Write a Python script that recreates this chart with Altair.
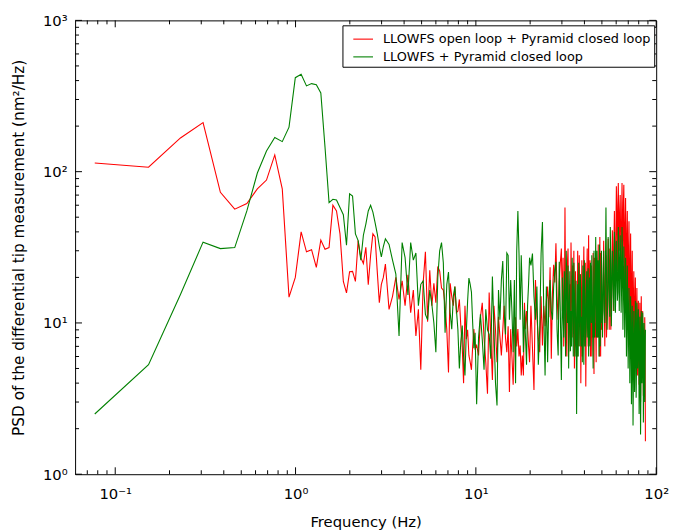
import math
import altair as alt
import pandas as pd

# ---------------- data ----------------
FREQ = [
    0.077, 0.153, 0.230, 0.307, 0.383, 0.460, 0.537, 0.614, 0.690, 0.767,
    0.844, 0.920, 0.997, 1.074, 1.150, 1.227, 1.304, 1.381, 1.457, 1.534,
    1.611, 1.687, 1.764, 1.841, 1.917, 1.994, 2.071, 2.148, 2.224, 2.301,
    2.378, 2.454, 2.531, 2.608, 2.685, 2.761, 2.838, 2.915, 2.991, 3.068,
    3.15, 3.30, 3.45, 3.60, 3.75, 3.90, 4.05, 4.20, 4.35, 4.50,
    4.65, 4.80, 4.95, 5.10, 5.25, 5.40, 5.55, 5.70, 5.85, 6.00,
    6.15, 6.30, 6.45, 6.60, 6.75, 6.90, 7.05, 7.20, 7.35, 7.50,
    7.65, 7.80, 7.95, 8.10, 8.25, 8.40, 8.55, 8.70, 8.85, 9.00,
    9.15, 9.30, 9.45, 9.60, 9.75, 9.90,
    10.10, 10.35, 10.60, 10.85, 11.10, 11.35, 11.60, 11.85, 12.10, 12.35,
    12.60, 12.85, 13.10, 13.35, 13.60, 13.85, 14.10, 14.35, 14.60, 14.85,
    15.10, 15.35, 15.60, 15.85, 16.10, 16.35, 16.60, 16.85, 17.10, 17.35,
    17.60, 17.85, 18.10, 18.35, 18.60, 18.85, 19.10, 19.35, 19.60, 19.85,
    20.2, 20.6, 21.0, 21.4, 21.8, 22.2, 22.6, 23.0, 23.4, 23.8,
    24.2, 24.6, 25.0, 25.4, 25.8, 26.2, 26.6, 27.0, 27.4, 27.8,
    28.2, 28.6, 29.0, 29.4, 29.8,
    30.2, 30.7, 31.2, 31.7, 32.2, 32.7, 33.2, 33.7, 34.2, 34.7,
    35.2, 35.7, 36.2, 36.7, 37.2, 37.7, 38.2, 38.7, 39.2, 39.7,
    40.2, 40.7, 41.2, 41.7, 42.2, 42.7, 43.2, 43.7, 44.2, 44.7,
    45.2, 45.7, 46.2, 46.7, 47.2, 47.7, 48.2, 48.7, 49.2, 49.7,
    50.40, 51.15, 51.90, 52.65, 53.40, 54.15, 54.90, 55.65, 56.40, 57.15,
    57.90, 58.65, 59.40, 60.15, 60.90, 61.65, 62.40, 63.15, 63.90, 64.65,
    65.40, 66.15, 66.90, 67.65, 68.40, 69.15, 69.90, 70.65, 71.40, 72.15,
    72.90, 73.65, 74.40, 75.15, 75.90, 76.65, 77.40, 78.15, 78.90, 79.65,
    80.40, 81.15, 81.90, 82.65, 83.40, 84.15, 84.90, 85.65, 86.40, 87.15,
]

# red: LLOWFS open loop + Pyramid closed loop
PSD_OPEN = [
    114, 107, 167, 211, 73, 56.5, 61.5, 77, 88, 129,
    77, 14.8, 20, 40, 29.5, 30.5, 23.3, 35.3, 30.7, 31.5,
    60, 55, 38.8, 18.8, 15.8, 21.8, 21.9, 18.8, 35, 27,
    24.7, 31.6, 17.9, 28, 38.8, 37, 22, 13.6, 18, 20,
    24.5, 12.3, 15, 20, 14.3, 19, 13, 20.8, 11.7, 16.5,
    8.2, 12.3, 4.9, 18.3, 29.5, 10.2, 22.3, 13, 18.3, 13.6,
    23.6, 22, 17, 16.5, 13, 9, 4.7, 18.3, 15, 13,
    17.4, 11.7, 12, 14.3, 9.6, 7, 4.0, 13, 7.8, 9,
    6.1, 5.5, 4.9, 7, 9.1, 6.8,
    7.1, 6.1, 10.9, 13.6, 8, 5.5, 3.4, 15.9, 8, 4.2,
    13, 9, 5.5, 11, 8.1, 6.1, 9, 13, 8, 6.4,
    9.5, 3.5, 9.1, 6, 3.9, 8, 10.9, 7, 9.1, 6,
    7.1, 4.5, 6.1, 4.5, 13.6, 9.1, 12, 9.5, 7, 5.5,
    13, 6.8, 3.6, 19.2, 10.9, 8, 6.4, 15, 7.1, 13,
    9.5, 14, 17.4, 10.9, 23.3, 5.8, 16, 24.2, 18.5, 33.6,
    15, 10.5, 18.5, 25, 31,
    12, 7, 58, 10, 25, 6.4, 18, 34, 8, 14,
    5, 22, 11, 30, 7, 16, 4, 26, 9, 32,
    12, 3.8, 20, 10, 38, 15, 6, 24, 12, 29,
    4.6, 18, 10, 27, 8, 33, 14, 37, 6, 20,
    10, 35, 7, 28, 12, 36, 9, 25, 14, 41,
    12, 55, 18, 80, 22, 84, 30, 70, 20, 84,
    25, 82, 18, 67, 15, 55, 12, 47, 11, 39,
    9, 30, 8, 22, 6, 20, 5, 17, 4.5, 14,
    3.9, 13.6, 3.0, 15, 5, 12, 3.3, 8, 10.9, 1.65,
]

# green: LLOWFS + Pyramid closed loop
PSD_CLOSED = [
    2.5, 5.3, 15.4, 34.2, 31, 31.5, 55, 98, 137, 168,
    158, 197, 418, 440, 369, 382, 375, 331, 145, 62.4,
    65.7, 65, 58, 51.9, 32.6, 71.4, 69, 38.8, 35, 26,
    38, 45, 55, 60, 54, 46, 39, 32, 27.3, 32,
    36, 33, 26, 21, 8.2, 34, 27, 15.3, 34, 26,
    29, 13, 18, 19, 11.4, 10.5, 16.5, 13.3, 10, 6.4,
    20, 30, 34, 25, 8.6, 18, 21.7, 11.7, 9.1, 15,
    17.4, 12.3, 9, 5.0, 7.5, 9.6, 6, 4.5, 8.6, 14,
    19.8, 18, 16, 10, 6.8, 8.6,
    2.9, 8, 11.4, 7.8, 4.9, 12.3, 9, 8.4, 5.8, 20.3,
    9.1, 4, 2.85, 16.5, 10.5, 19.2, 25.7, 12, 8.4, 29,
    28, 10.5, 19.2, 12, 6.4, 19.2, 4.0, 30, 55, 28.8,
    10.5, 28, 15, 6.4, 12.2, 8, 5.3, 13, 18, 27,
    24, 28.8, 15, 10.5, 17.4, 5.3, 9.1, 28.8, 46.5, 12,
    4.5, 17.4, 5.5, 14, 19.2, 12, 10.5, 17.4, 22, 25.4,
    9, 6.1, 25.4, 12, 4.2,
    20, 8, 14, 30, 10, 5, 22, 12, 27, 6,
    16, 9, 2.5, 18, 25, 7, 15, 11, 24, 5.3,
    17, 9, 22, 13, 6, 20, 25, 10, 16, 5,
    30, 12, 37, 8, 19, 26, 6, 21, 14, 30,
    8, 30, 10, 58, 9, 37, 14, 43, 9.5, 30,
    15, 40, 11.7, 35, 14, 43, 12, 38, 11.7, 43,
    9, 32, 8, 27, 6, 24, 5, 17, 4, 15,
    2.9, 13, 2.1, 12, 3.5, 14, 3.2, 13.6, 5, 12.3,
    2.5, 11, 1.83, 12, 4, 11.7, 2.2, 10, 3, 9,
]

# extra in-between readings of the dense 30-87 Hz part
FREQ_DENSE = [
    30.45, 30.95, 31.45, 31.95, 32.45, 32.95, 33.45, 33.95, 34.45, 34.95,
    35.45, 35.95, 36.45, 36.95, 37.45, 37.95, 38.45, 38.95, 39.45, 39.95,
    40.45, 40.95, 41.45, 41.95, 42.45, 42.95, 43.45, 43.95, 44.45, 44.95,
    45.45, 45.95, 46.45, 46.95, 47.45, 47.95, 48.45, 48.95, 49.45, 49.95,
    50.78, 51.53, 52.28, 53.03, 53.78, 54.53, 55.28, 56.03, 56.78, 57.53,
    58.28, 59.03, 59.78, 60.53, 61.28, 62.03, 62.78, 63.53, 64.28, 65.03,
    65.78, 66.53, 67.28, 68.03, 68.78, 69.53, 70.28, 71.03, 71.78, 72.53,
    73.28, 74.03, 74.78, 75.53, 76.28, 77.03, 77.78, 78.53, 79.28, 80.03,
    80.78, 81.53, 82.28, 83.03, 83.78, 84.53, 85.28, 86.03, 86.78,
]
PSD_OPEN_DENSE = [
    27, 11, 15, 6, 31, 9, 8, 17, 24, 30,
    9, 7, 6, 13, 28, 21, 12, 6, 18, 7,
    25, 10, 31, 7, 9, 26, 14, 6, 8, 16,
    27, 8, 5.5, 14, 19, 9, 6, 16, 29, 9,
    19, 14, 20, 8, 17, 24, 31, 9, 22, 26,
    33, 24, 40, 45, 60, 42, 55, 35, 48, 35,
    62, 30, 45, 28, 36, 22, 30, 16, 24, 14,
    18, 12, 14, 10, 13, 9, 11, 8, 9, 6,
    8, 5.5, 9, 8, 6.5, 7, 5.5, 3.5, 6,
]
PSD_CLOSED_DENSE = [
    11, 22, 6, 17, 24, 12, 6.5, 7, 15, 25,
    6, 19, 8, 6, 14, 21, 7, 5.5, 12, 26,
    7, 15, 8, 23, 11, 7, 16, 28, 9, 15,
    8, 17, 11, 30, 8, 15, 33, 7, 10, 17,
    18, 12, 22, 20, 13, 22, 11, 25, 16, 24,
    12, 28, 18, 22, 16, 30, 20, 26, 17, 28,
    15, 20, 13, 16, 10, 14, 8, 11, 7, 9,
    5, 8, 4.5, 8, 6, 9, 5, 10, 7, 8,
    4, 7, 3.5, 9, 5, 8, 4, 7, 5,
]

SERIES = ["LLOWFS open loop + Pyramid closed loop", "LLOWFS + Pyramid closed loop"]
COLORS = ["#ff0000", "#008000"]

X_MAJOR = [0.1, 1, 10, 100]
X_LABELS = ["10⁻¹", "10⁰", "10¹", "10²"]
X_MINOR = [0.07, 0.08, 0.09, 0.2, 0.3, 0.4, 0.5, 0.6, 0.7, 0.8, 0.9,
           2, 3, 4, 5, 6, 7, 8, 9, 20, 30, 40, 50, 60, 70, 80, 90]
Y_MAJOR = [1, 10, 100, 1000]
Y_LABELS = ["10⁰", "10¹", "10²", "10³"]
Y_MINOR = [2, 3, 4, 5, 6, 7, 8, 9, 20, 30, 40, 50, 60, 70, 80, 90,
           200, 300, 400, 500, 600, 700, 800, 900]

X_TITLE = "Frequency (Hz)"
Y_TITLE = "PSD of the differential tip measurement (nm²/Hz)"

# ---------------- layout / style ----------------
W, H = 589, 460
MAJOR_LEN, MINOR_LEN = 7, 4
FONT = "DejaVu Sans"


def label_expr(values, labels):
    expr = "''"
    for v, lab in reversed(list(zip(values, labels))):
        expr = f"abs(log(datum.value) / LN10 - ({math.log10(v):.3f})) < 0.05 ? '{lab}' : " + expr
    return expr


xs = alt.Scale(type="log", domain=[0.0599, 100], nice=False)
ys = alt.Scale(type="log", domain=[1, 1000], nice=False)

axis_common = dict(ticks=False, domain=False, grid=False, labelFont=FONT,
                   labelColor="black", titleFont=FONT, titleColor="black",
                   titleFontWeight="normal", labelFlush=False, labelOverlap=False)

x_axis = alt.Axis(title=X_TITLE, values=X_MAJOR, labelExpr=label_expr(X_MAJOR, X_LABELS),
                  labelFontSize=15, labelPadding=13, titleFontSize=15, titlePadding=13,
                  **axis_common)
y_axis = alt.Axis(title=Y_TITLE, values=Y_MAJOR, labelExpr=label_expr(Y_MAJOR, Y_LABELS),
                  labelFontSize=15, labelPadding=8, titleFontSize=15.5, titlePadding=16,
                  **axis_common)

legend = alt.Legend(title=None, orient="none", legendX=271, legendY=5,
                    symbolType="stroke", symbolSize=400, symbolStrokeWidth=1.1,
                    labelFont=FONT, labelFontSize=13, labelColor="black",
                    strokeColor="black", fillColor="white", padding=3,
                    symbolOffset=7, labelOffset=9, rowPadding=0, cornerRadius=0,
                    labelLimit=500)

color = alt.Color("series:N", scale=alt.Scale(domain=SERIES, range=COLORS), legend=legend)

freq_all = FREQ + FREQ_DENSE
open_all = PSD_OPEN + PSD_OPEN_DENSE
closed_all = PSD_CLOSED + PSD_CLOSED_DENSE
n = len(freq_all)
lines_df = pd.DataFrame({
    "freq": freq_all + freq_all,
    "psd": open_all + closed_all,
    "series": [SERIES[0]] * n + [SERIES[1]] * n,
})


def line_layer(name):
    return (
        alt.Chart(lines_df)
        .transform_filter(alt.datum.series == name)
        .mark_line(strokeWidth=1.1)
        .encode(
            x=alt.X("freq:Q", scale=xs, axis=x_axis, sort="ascending"),
            y=alt.Y("psd:Q", scale=ys, axis=y_axis),
            color=color,
        )
    )


def x_ticks(vals, length, top):
    df = pd.DataFrame({"v": vals})
    if top:
        yy, yy2 = alt.value(0), alt.value(length)
    else:
        yy, yy2 = alt.value(H), alt.value(H - length)
    return alt.Chart(df).mark_rule(color="black", strokeWidth=1).encode(
        x=alt.X("v:Q", scale=xs, axis=x_axis), y=yy, y2=yy2)


def y_ticks(vals, length, right):
    df = pd.DataFrame({"v": vals})
    if right:
        xx, xx2 = alt.value(W), alt.value(W - length)
    else:
        xx, xx2 = alt.value(0), alt.value(length)
    return alt.Chart(df).mark_rule(color="black", strokeWidth=1).encode(
        y=alt.Y("v:Q", scale=ys, axis=y_axis), x=xx, x2=xx2)


layers = [line_layer(SERIES[0]), line_layer(SERIES[1])]
for top in (False, True):
    layers.append(x_ticks(X_MAJOR, MAJOR_LEN, top))
    layers.append(x_ticks(X_MINOR, MINOR_LEN, top))
for right in (False, True):
    layers.append(y_ticks(Y_MAJOR, MAJOR_LEN, right))
    layers.append(y_ticks(Y_MINOR, MINOR_LEN, right))

chart = (
    alt.layer(*layers)
    .properties(
        width=W, height=H,
        autosize=alt.AutoSizeParams(type="none"),
        padding={"left": 68, "top": 9, "right": 14, "bottom": 54},
        background="white",
    )
    .configure_view(stroke="black", strokeWidth=1)
)

chart.save("out.html", embed_options={"renderer": "svg", "actions": False})
